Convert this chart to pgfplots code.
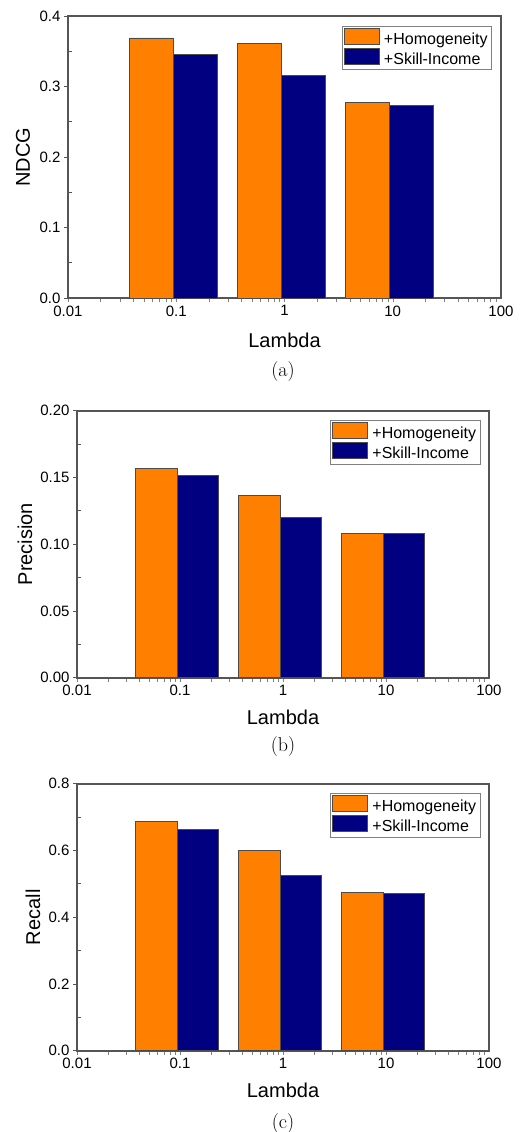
\documentclass[border=0pt]{standalone}
\usepackage{pgfplots}
\pgfplotsset{compat=1.18}
\usepackage{fontspec}
\setsansfont{Liberation Sans}

\definecolor{barorange}{RGB}{255,128,0}
\definecolor{barnavy}{RGB}{0,0,128}
\definecolor{framegray}{RGB}{85,85,85}

% shared look of the three panels
\pgfplotsset{
  lambdabars/.style={
    scale only axis,
    xmin=0.01, xmax=100,
    xtick={0.01,0.1,1,10,100},
    xticklabels={0.01,0.1,1,10,100},
    ymin=0,
    ybar=0pt,
    axis line style={draw=framegray, line width=1.6pt},
    xtick pos=bottom, ytick pos=left,
    major x tick style={draw=none},
    tick align=outside,
    major tick length=4pt,
    minor tick length=4pt,
    major y tick style={draw=framegray, line width=0.8pt},
    minor y tick style={draw=framegray, line width=0.8pt, xshift=4pt},
    minor y tick num=1,
    ticklabel style={font=\sffamily\fontsize{15}{15}\selectfont},
    label style={font=\sffamily\fontsize{20}{20}\selectfont},
    xlabel={Lambda},
    legend image code/.code={\draw[#1] (0pt,-5.4pt) rectangle (35pt,10.8pt);},
    legend style={at={(axis description cs:0.979,0.966)}, anchor=north east,
      draw=gray, line width=0.6pt, font=\sffamily\fontsize{16}{16}\selectfont,
      inner sep=2pt, row sep=0.5pt, cells={anchor=west},
      /tikz/every odd column/.append style={column sep=2.5pt}},
  },
  horange/.style={fill=barorange, draw=black!70, line width=0.6pt, bar shift=-0.5*\pgfplotbarwidth-3pt},
  hnavy/.style={fill=barnavy, draw=black!70, line width=0.6pt, bar shift=0.5*\pgfplotbarwidth-3pt},
}

\begin{document}
\begin{tikzpicture}
\useasboundingbox (0,0) rectangle (522pt,-1132pt);

% (a) NDCG
\begin{axis}[xmode=log, lambdabars, bar width=44pt,
  /pgf/number format/assume math mode=true,
  at={(68pt,-298pt)}, anchor=south west,
  width=433pt, height=282pt,
  ymax=0.4, ytick={0,0.1,...,0.4},
  yticklabel style={/pgf/number format/.cd, fixed, fixed zerofill, precision=1},
  ylabel={NDCG},
  ylabel style={at={(axis description cs:-0.104,0.5)}, anchor=center},
  xlabel style={at={(axis description cs:0.5,-0.149)}, anchor=center},
]
\addplot[horange] coordinates {(0.1,0.369) (1,0.361) (10,0.278)};
\addplot[hnavy] coordinates {(0.1,0.345) (1,0.316) (10,0.273)};
\legend{+Homogeneity,+Skill-Income}
\end{axis}
\node[font=\rmfamily\fontsize{20}{20}\selectfont] at (283pt,-372pt) {(a)};

% (b) Precision
\begin{axis}[xmode=log, lambdabars, bar width=41.5pt,
  /pgf/number format/assume math mode=true,
  at={(77pt,-677.7pt)}, anchor=south west,
  width=412pt, height=267pt,
  ymax=0.2, ytick={0,0.05,...,0.2},
  yticklabel style={/pgf/number format/.cd, fixed, fixed zerofill, precision=2},
  ylabel={Precision},
  ylabel style={at={(axis description cs:-0.126,0.5)}, anchor=center},
  xlabel style={at={(axis description cs:0.5,-0.150)}, anchor=center},
]
\addplot[horange] coordinates {(0.1,0.1566) (1,0.1368) (10,0.1078)};
\addplot[hnavy] coordinates {(0.1,0.1513) (1,0.1201) (10,0.1078)};
\legend{+Homogeneity,+Skill-Income}
\end{axis}
\node[font=\rmfamily\fontsize{20}{20}\selectfont] at (283pt,-747pt) {(b)};

% (c) Recall
\begin{axis}[xmode=log, lambdabars, bar width=41.5pt,
  /pgf/number format/assume math mode=true,
  at={(77pt,-1050.7pt)}, anchor=south west,
  width=412pt, height=267pt,
  ymax=0.8, ytick={0,0.2,...,0.8},
  yticklabel style={/pgf/number format/.cd, fixed, fixed zerofill, precision=1},
  ylabel={Recall},
  ylabel style={at={(axis description cs:-0.107,0.5)}, anchor=center},
  xlabel style={at={(axis description cs:0.5,-0.148)}, anchor=center},
]
\addplot[horange] coordinates {(0.1,0.686) (1,0.601) (10,0.474)};
\addplot[hnavy] coordinates {(0.1,0.664) (1,0.525) (10,0.472)};
\legend{+Homogeneity,+Skill-Income}
\end{axis}
\node[font=\rmfamily\fontsize{20}{20}\selectfont] at (283pt,-1123pt) {(c)};
\end{tikzpicture}
\end{document}
